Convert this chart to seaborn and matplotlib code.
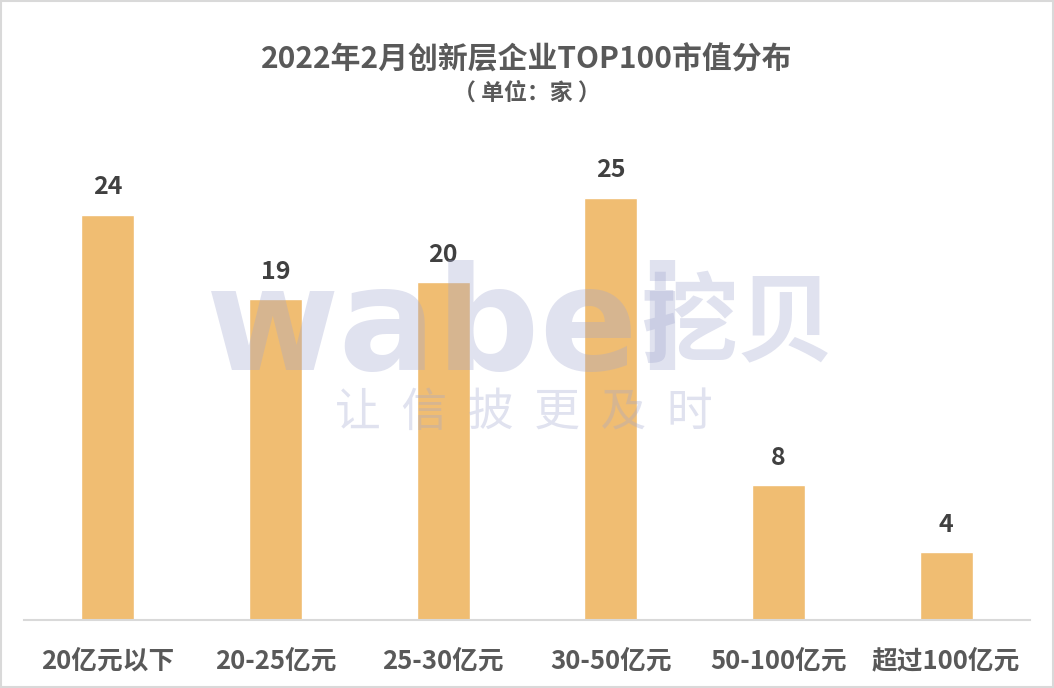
import matplotlib.pyplot as plt
import pandas as pd
import seaborn as sns

# data
categories = ['20亿元以下', '20-25亿元', '25-30亿元', '30-50亿元', '50-100亿元', '超过100亿元']
counts = [24, 19, 20, 25, 8, 4]

df = pd.DataFrame({'range': categories, 'count': counts})

sns.set_style('white')
plt.rcParams['font.family'] = ['Noto Sans CJK SC', 'DejaVu Sans']

fig = plt.figure(figsize=(10.54, 6.88), dpi=100)
ax = fig.add_axes([0.0228, 0.0988, 0.9544, 0.7122])

sns.barplot(data=df, x='range', y='count', color='#F0BD72', width=0.316,
            saturation=1, ax=ax, zorder=2)

ax.set_ylim(0, 29)
ax.set_xlim(-0.5, len(categories) - 0.5)
ax.set_xlabel('')
ax.set_ylabel('')
ax.set_yticks([])
ax.tick_params(axis='x', length=0, pad=20)
for lbl in ax.get_xticklabels():
    lbl.set_fontsize(18.5)
    lbl.set_fontweight('bold')
    lbl.set_color('#595959')

for s in ['top', 'right', 'left']:
    ax.spines[s].set_visible(False)
ax.spines['bottom'].set_color('#D9D9D9')
ax.spines['bottom'].set_linewidth(1.5)

# value labels
for i, v in enumerate(counts):
    ax.annotate(str(v), (i, v), xytext=(0, 11), textcoords='offset points',
                ha='center', va='bottom', fontsize=18, fontweight='bold', color='#404040')

# title
fig.text(0.5, 0.914, '2022年2月创新层企业TOP100市值分布', ha='center', va='center',
         fontsize=21.5, fontweight='bold', color='#595959')
fig.text(0.5, 0.864, '（ 单位：家 ）', ha='center', va='center',
         fontsize=16.5, fontweight='bold', color='#595959')

# watermark
wm = '#A1A7CF'
fig.text(0.195, 0.52, 'wabei', ha='left', va='center', fontsize=104, fontweight='heavy',
         color=wm, alpha=0.33, zorder=5, family=['DejaVu Sans'])
fig.text(0.607, 0.527, '挖贝', ha='left', va='center', fontsize=70, fontweight='heavy',
         color=wm, alpha=0.33, zorder=5)
fig.text(0.497, 0.40, '让  信  披  更  及  时', ha='center', va='center', fontsize=33,
         color=wm, alpha=0.33, zorder=5)

# border
fig.patches.append(plt.Rectangle((0.001, 0.001), 0.998, 0.997, transform=fig.transFigure,
                                 fill=False, edgecolor='#D9D9D9', linewidth=1.5))

fig.savefig('out.png', dpi=100)
